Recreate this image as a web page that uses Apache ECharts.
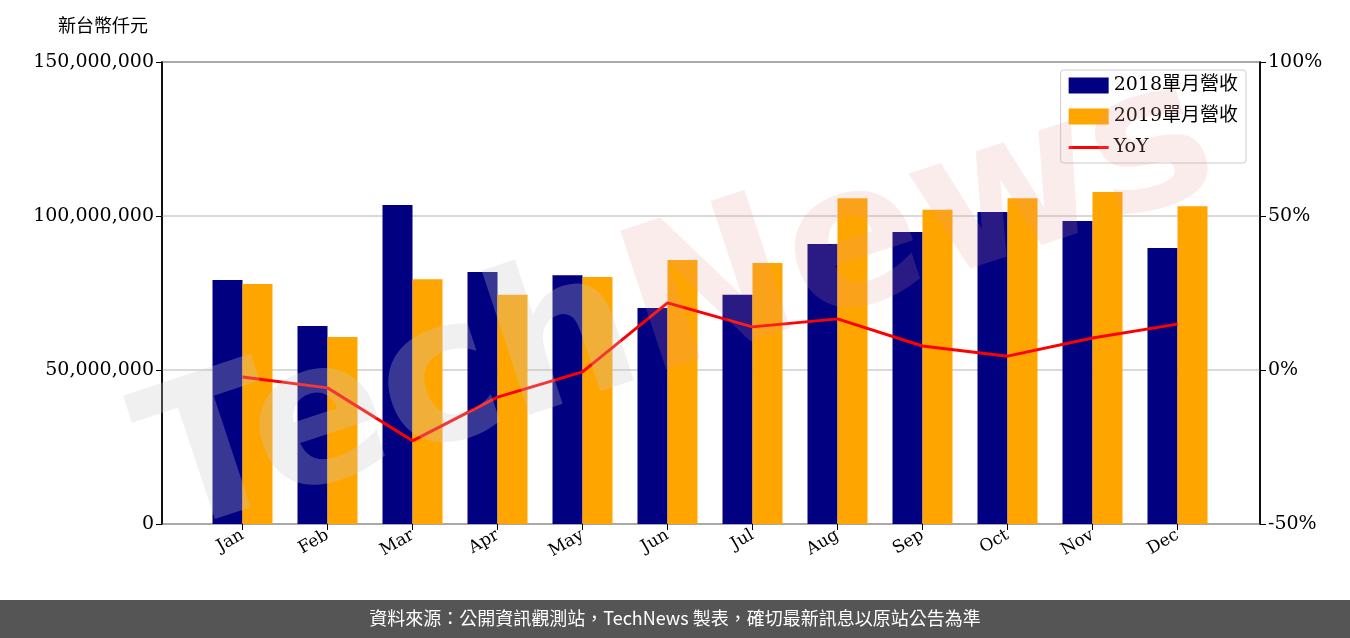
<!DOCTYPE html>
<html><head><meta charset="utf-8">
<script src="https://cdn.jsdelivr.net/npm/echarts@6/dist/echarts.min.js"></script>
<style>html,body{margin:0;padding:0;background:#fff}#c{width:1350px;height:638px}</style>
</head><body><div id="c"></div>
<script>
const months=['Jan','Feb','Mar','Apr','May','Jun','Jul','Aug','Sep','Oct','Nov','Dec'];
const rev2018=[79200000,64300000,103600000,81800000,80800000,70100000,74400000,90900000,94800000,101300000,98400000,89600000];
const rev2019=[77900000,60700000,79500000,74400000,80200000,85700000,84700000,105800000,102000000,105800000,107800000,103200000];
const yoy=[-2.3,-5.8,-23,-8.8,-0.6,21.8,14,16.6,7.8,4.5,10.4,14.9];
const serif='"DejaVu Serif","Liberation Serif","Noto Sans CJK TC",serif';
const ch=echarts.init(document.getElementById('c'));
const ax={lineStyle:{color:'#000',width:1.5}};
ch.setOption({
 animation:false,
 grid:[{left:162,right:90,top:62,bottom:114,show:true,borderColor:'#000',borderWidth:1.5},
       {left:200,right:130,top:62,bottom:114}],
 legend:{right:104,top:70,orient:'vertical',itemWidth:40,itemHeight:16,itemGap:12,
  backgroundColor:'rgba(255,255,255,0.8)',borderColor:'#ccc',borderWidth:1,borderRadius:3,padding:[6,8,6,8],
  textStyle:{fontFamily:serif,fontSize:19,color:'#000'},
  data:[{name:'2018單月營收',icon:'rect'},{name:'2019單月營收',icon:'rect'},{name:'YoY',icon:'path://M0,0H40V3H0Z'}]},
 graphic:[
  {type:'text',left:58,top:16,style:{text:'新台幣仟元',font:'18px "Noto Sans CJK TC"',fill:'#000'}},
  {type:'rect',left:0,top:600,shape:{width:1350,height:38},style:{fill:'#555'}},
  {type:'text',left:'center',top:609,style:{text:'資料來源：公開資訊觀測站，TechNews 製表，確切最新訊息以原站公告為準',font:'18px "Noto Sans CJK TC"',fill:'#fff'}},
  {type:'text',x:680,y:310,rotation:0.32,style:{text:'{a|Tech}{b|News}',rich:{a:{font:'bold 200px "DejaVu Sans"',fill:'rgba(200,200,200,0.28)'},b:{font:'bold 200px "DejaVu Sans"',fill:'rgba(235,150,150,0.18)'}},align:'center',verticalAlign:'middle'},z:100}
 ],
 xAxis:[
  {type:'category',gridIndex:0,data:months,show:false},
  {type:'category',gridIndex:1,data:months,axisLine:{show:false},
   axisTick:{show:true,alignWithLabel:true,length:6,lineStyle:{color:'#000'}},
   axisLabel:{rotate:30,fontFamily:serif,fontSize:17,color:'#000',margin:10}}],
 yAxis:[
  {type:'value',gridIndex:0,min:0,max:150000000,interval:50000000,
   axisLine:{show:true,...ax},axisTick:{show:true,length:6,lineStyle:{color:'#000'}},
   splitLine:{lineStyle:{color:'#ccc',width:1.5}},
   axisLabel:{fontFamily:serif,fontSize:19,color:'#000',formatter:v=>v.toLocaleString('en-US')}},
  {type:'value',gridIndex:0,min:-50,max:100,interval:50,position:'right',
   axisLine:{show:true,...ax},axisTick:{show:true,length:6,lineStyle:{color:'#000'}},
   splitLine:{show:false},
   axisLabel:{fontFamily:serif,fontSize:19,color:'#000',formatter:v=>v+'%'}},
  {type:'value',gridIndex:1,min:0,max:150000000,show:false,splitLine:{show:false}},
  {type:'value',gridIndex:1,min:-50,max:100,show:false,splitLine:{show:false}}
 ],
 series:[
  {name:'2018單月營收',type:'bar',xAxisIndex:1,yAxisIndex:2,data:rev2018,barWidth:30,barGap:'0%',itemStyle:{color:'#000080'}},
  {name:'2019單月營收',type:'bar',xAxisIndex:1,yAxisIndex:2,data:rev2019,barWidth:30,itemStyle:{color:'#FFA500'}},
  {name:'YoY',type:'line',xAxisIndex:1,yAxisIndex:3,data:yoy,symbol:'none',lineStyle:{color:'#FF0000',width:3},itemStyle:{color:'#FF0000'},z:5}
 ]
});
</script></body></html>
